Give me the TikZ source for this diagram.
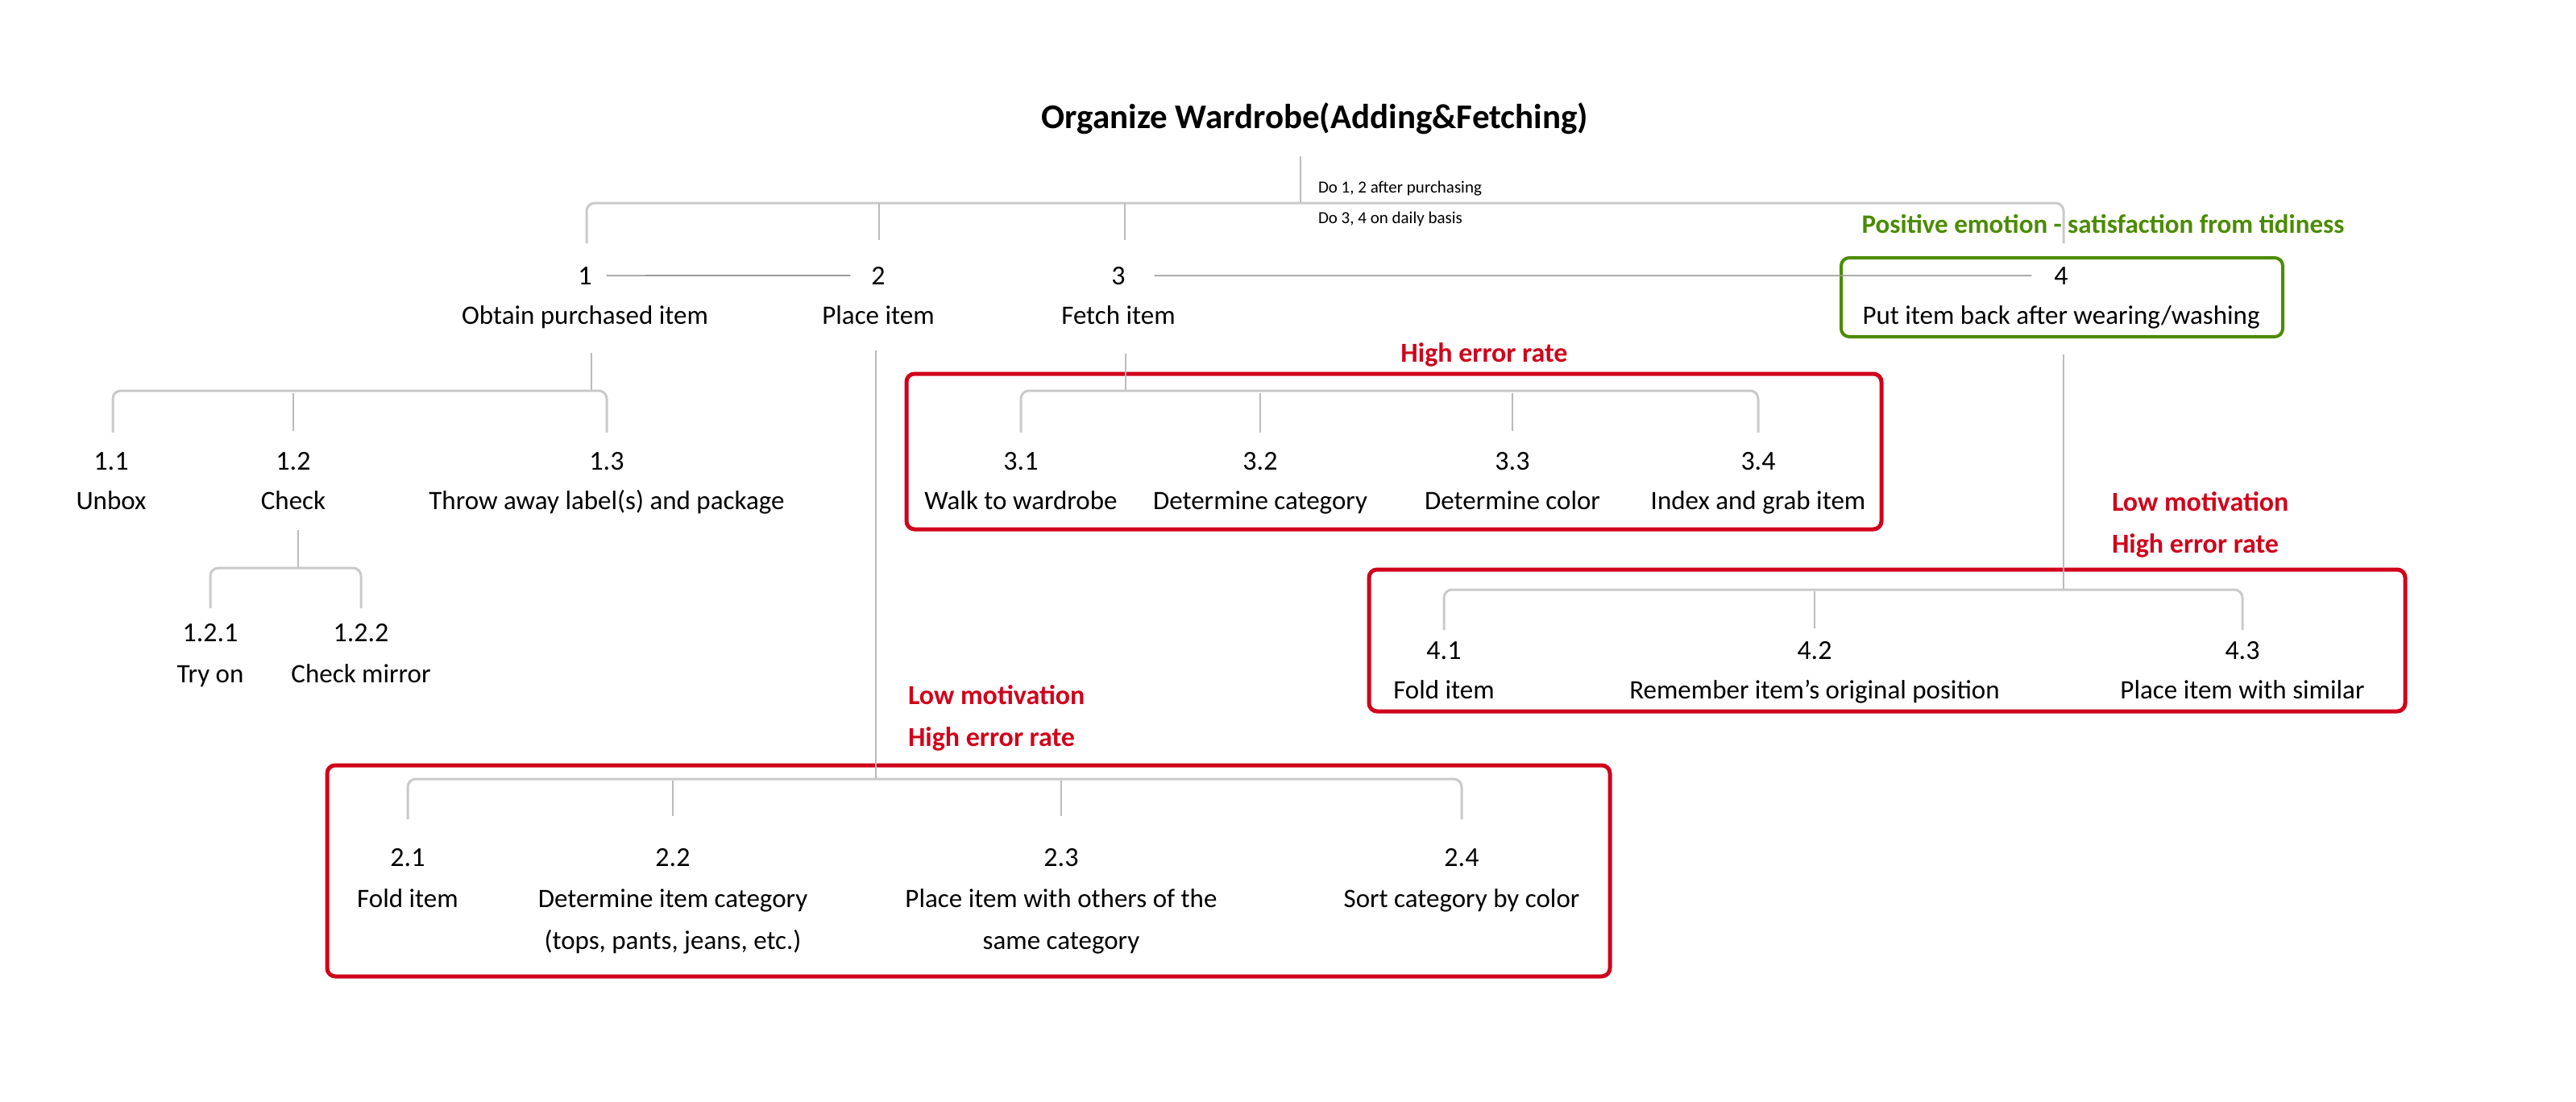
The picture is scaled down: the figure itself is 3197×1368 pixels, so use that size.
\documentclass[tikz,border=0pt]{standalone}
\usepackage{fontspec}
\setmainfont{Carlito}
\definecolor{redc}{HTML}{D0021B}
\definecolor{greenc}{HTML}{4B8B00}
\definecolor{barc}{HTML}{CACACA}
\definecolor{dropc}{HTML}{BBBBBB}
\definecolor{sibc}{HTML}{999999}
\begin{document}
\begin{tikzpicture}[x=1pt,y=-1pt,
  every node/.style={inner sep=0pt,outer sep=0pt},
  num/.style={anchor=base,font=\fontsize{34}{38}\selectfont},
  lab/.style={anchor=base,align=center,font=\fontsize{33}{52}\selectfont},
  ttl/.style={anchor=center,font=\fontsize{43}{50}\selectfont\bfseries},
  note/.style={anchor=base west,font=\fontsize{21}{24}\selectfont},
  redt/.style={font=\fontsize{34}{40}\selectfont\bfseries,text=redc},
  greent/.style={font=\fontsize{33}{38}\selectfont\bfseries,text=greenc},
  bar/.style={draw=barc,line width=3pt,rounded corners=10pt},
  drop/.style={draw=dropc,line width=1.3pt},
  sib/.style={draw=sibc,line width=1.6pt},
  redbox/.style={draw=redc,line width=5pt,rounded corners=10pt},
  greenbox/.style={draw=greenc,line width=4pt,rounded corners=10pt}]
\useasboundingbox (0,0) rectangle (3197,1368);

% boxes
\draw[redbox] (406,950) rectangle (1998,1212);
\draw[redbox] (1125,464) rectangle (2335,657);
\draw[redbox] (1699,707) rectangle (2985,883);
\draw[greenbox] (2285,320) rectangle (2833,418);

% title
\node[ttl] (title) at (1632,147) {Organize Wardrobe(Adding\&Fetching)};
\node[note] (noteA) at (1636,239) {Do 1, 2 after purchasing};
\node[note] (noteB) at (1636,277) {Do 3, 4 on daily basis};

% level 1
\node[num] (n1) at (726,353) {1};
\node[lab] (l1) at (726,402) {Obtain purchased item};
\node[num] (n2) at (1090,353) {2};
\node[lab] (l2) at (1090,402) {Place item};
\node[num] (n3) at (1388,353) {3};
\node[lab] (l3) at (1388,402) {Fetch item};
\node[num] (n4) at (2558,353) {4};
\node[lab] (l4) at (2558,402) {Put item back after wearing/washing};
\node[greent,anchor=base] (g4) at (2610,289) {Positive emotion - satisfaction from tidiness};

% level 1.x
\node[num] (n11) at (138,583) {1.1};
\node[lab] (l11) at (138,632) {Unbox};
\node[num] (n12) at (364,583) {1.2};
\node[lab] (l12) at (364,632) {Check};
\node[num] (n13) at (753,583) {1.3};
\node[lab] (l13) at (753,632) {Throw away label(s) and package};
\node[num] (n121) at (261,796) {1.2.1};
\node[lab] (l121) at (261,847) {Try on};
\node[num] (n122) at (448,796) {1.2.2};
\node[lab] (l122) at (448,847) {Check mirror};

% level 2.x
\node[redt,anchor=base west] (r2a) at (1127,874) {Low motivation};
\node[redt,anchor=base west] (r2b) at (1127,926) {High error rate};
\node[num] (n21) at (506,1075) {2.1};
\node[lab] (l21) at (506,1126) {Fold item};
\node[num] (n22) at (835,1075) {2.2};
\node[lab] (l22) at (835,1178) {Determine item category\\(tops, pants, jeans, etc.)};
\node[num] (n23) at (1317,1075) {2.3};
\node[lab] (l23) at (1317,1178) {Place item with others of the\\same category};
\node[num] (n24) at (1814,1075) {2.4};
\node[lab] (l24) at (1814,1126) {Sort category by color};

% level 3.x
\node[redt,anchor=base] (r3) at (1842,449) {High error rate};
\node[num] (n31) at (1267,583) {3.1};
\node[lab] (l31) at (1267,632) {Walk to wardrobe};
\node[num] (n32) at (1564,583) {3.2};
\node[lab] (l32) at (1564,632) {Determine category};
\node[num] (n33) at (1877,583) {3.3};
\node[lab] (l33) at (1877,632) {Determine color};
\node[num] (n34) at (2182,583) {3.4};
\node[lab] (l34) at (2182,632) {Index and grab item};

% level 4.x
\node[redt,anchor=base west] (r4a) at (2621,634) {Low motivation};
\node[redt,anchor=base west] (r4b) at (2621,686) {High error rate};
\node[num] (n41) at (1792,818) {4.1};
\node[lab] (l41) at (1792,867) {Fold item};
\node[num] (n42) at (2252,818) {4.2};
\node[lab] (l42) at (2252,867) {Remember item’s original position};
\node[num] (n43) at (2783,818) {4.3};
\node[lab] (l43) at (2783,867) {Place item with similar};

% connector coordinates
\coordinate (t0) at (1614,194);
\coordinate (tb) at (1614,252);
\coordinate (p1) at (734,438);   \coordinate (b1) at (734,485);
\coordinate (p12) at (370,658);  \coordinate (b12) at (370,705);
\coordinate (p2) at (1087,435);  \coordinate (b2) at (1087,967);
\coordinate (p3) at (1397,439);  \coordinate (b3) at (1397,485);
\coordinate (p4) at (2561,440);  \coordinate (b4) at (2561,732);

% top bracket
\draw[drop] (t0) -- (tb);
\draw[bar] (728,302) -- (728,252) -- (2561,252) -- (2561,302);
\draw[drop] (1091,252) -- (1091,298);
\draw[drop] (1396,252) -- (1396,298);
\draw[sib] ([xshift=18pt]n1.east) -- ([xshift=-26pt]n2.west);
\draw[sib] ([xshift=36pt]n3.east) -- ([xshift=-28pt]n4.west);

% bracket 1
\draw[drop] (p1) -- (b1);
\draw[bar] (140,537) -- (140,485) -- (753,485) -- (753,537);
\draw[drop] (364,488) -- (364,535);
% bracket 1.2
\draw[drop] (p12) -- (b12);
\draw[bar] (261,755) -- (261,705) -- (448,705) -- (448,755);
% bracket 2
\draw[drop] (p2) -- (b2);
\draw[bar] (506,1017) -- (506,967) -- (1814,967) -- (1814,1017);
\draw[drop] (835,969) -- (835,1013);
\draw[drop] (1317,969) -- (1317,1013);
% bracket 3
\draw[drop] (p3) -- (b3);
\draw[bar] (1267,537) -- (1267,485) -- (2182,485) -- (2182,537);
\draw[drop] (1564,488) -- (1564,537);
\draw[drop] (1877,488) -- (1877,535);
% bracket 4
\draw[drop] (p4) -- (b4);
\draw[bar] (1792,782) -- (1792,732) -- (2783,732) -- (2783,782);
\draw[drop] (2252,734) -- (2252,780);
\end{tikzpicture}
\end{document}
